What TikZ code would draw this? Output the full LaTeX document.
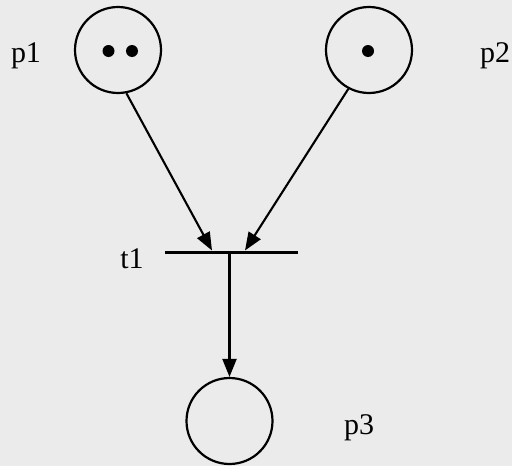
\documentclass[tikz,border=0pt]{standalone}
\usepackage{fontspec}
\setmainfont{Liberation Serif}
\usetikzlibrary{arrows.meta}
\definecolor{bg}{RGB}{235,235,235}
\tikzset{
  place/.style={circle,draw=black,line width=2.2pt,minimum size=86pt,inner sep=0pt},
  token/.style={circle,fill=black,minimum size=12pt,inner sep=0pt},
  trans/.style={rectangle,fill=black,minimum width=133pt,minimum height=3pt,inner sep=0pt},
  lbl/.style={font=\fontsize{30pt}{33pt}\selectfont,anchor=base,inner sep=0pt},
  arc/.style={line width=2.1pt,-{Triangle[length=18pt,width=14pt]}}
}
\begin{document}
\begin{tikzpicture}[x=1pt,y=-1pt]
\fill[bg] (0,0) rectangle (512,466);
\useasboundingbox (0,0) rectangle (512,466);
\node[place] (p1) at (118,50) {};
\node[place] (p2) at (369,50) {};
\node[place] (p3) at (229.5,421) {};
\node[token] (k1) at (108.5,51) {};
\node[token] (k2) at (132,51) {};
\node[token] (k3) at (368,51) {};
\node[trans] (t1) at (231.5,252) {};
\coordinate (t1a) at (212,250.5);
\coordinate (t1b) at (245,250.5);
\node[lbl] (lp1) at (26,62) {p1};
\node[lbl] (lp2) at (495,62) {p2};
\node[lbl] (lt1) at (132,268) {t1};
\node[lbl] (lp3) at (359,434) {p3};
\draw[arc] (p1.-79) -- (t1a);
\draw[arc] (p2.-118) -- (t1b);
\draw[arc] (t1.center -| p3.north) -- (p3.north);
\end{tikzpicture}
\end{document}
